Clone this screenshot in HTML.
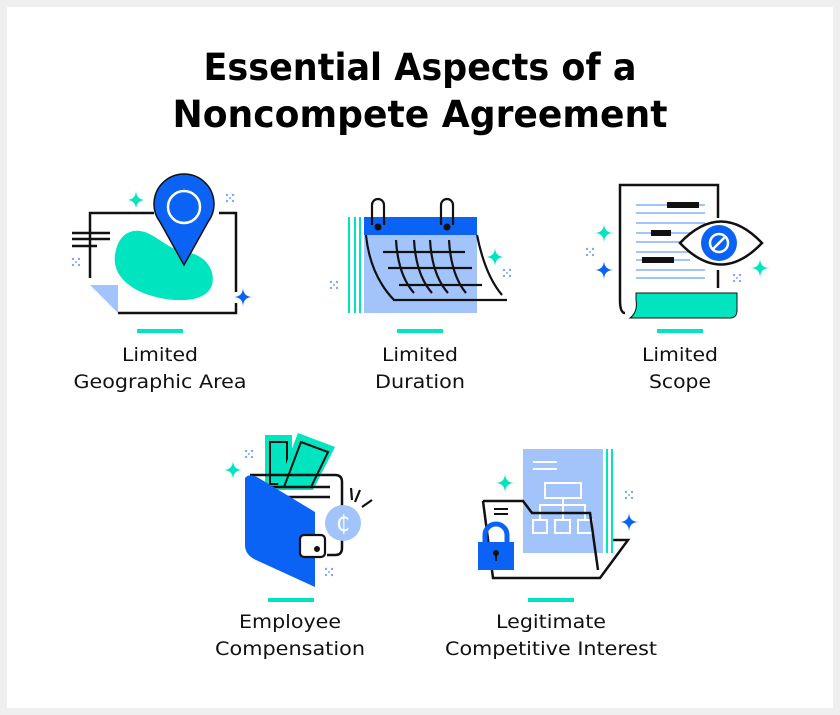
<!DOCTYPE html>
<html><head><meta charset="utf-8"><style>
html,body{margin:0;padding:0;background:#efefef;}
svg{display:block}
text{font-family:"DejaVu Sans","Liberation Sans",sans-serif}
</style></head><body>
<svg width="840" height="715" viewBox="0 0 840 715" xmlns="http://www.w3.org/2000/svg">
<rect x="0" y="0" width="840" height="715" fill="#efefef"/>
<rect x="7" y="7" width="826" height="701" fill="#fff"/>
<defs>
<path id="sp" d="M0,-10 Q0,0 10,0 Q0,0 0,10 Q0,0 -10,0 Q0,0 0,-10Z"/>
<g id="dots" fill="#7fa8f5"><circle cx="-3" cy="-3" r="1.2"/><circle cx="3" cy="-3" r="1.2"/><circle cx="-3" cy="3" r="1.2"/><circle cx="3" cy="3" r="1.2"/><circle cx="0" cy="0" r="1"/></g>
</defs>
<text x="420" y="80" text-anchor="middle" font-size="37" font-weight="bold" textLength="433" lengthAdjust="spacingAndGlyphs">Essential Aspects of a</text>
<text x="420" y="127" text-anchor="middle" font-size="37" font-weight="bold" textLength="495" lengthAdjust="spacingAndGlyphs">Noncompete Agreement</text>

<g fill="none" stroke="#111" stroke-width="2.5">
<path d="M90,278 V213 H154 M219,213 H236 V292 M236,303 V313 H118"/>
<path d="M72,233 H110 M72,239 H110 M72,246 H97"/>
</g>
<path d="M90,285 H118 V313 Z" fill="#a3c4fb"/>
<path d="M130,232 C150,225 165,250 185,252 C205,254 216,270 212,285 C206,302 180,302 160,298 C130,292 112,275 115,255 C117,242 122,235 130,232Z" fill="#00e5bf"/>
<path d="M184,265 L160,222 A30,30 0 1 1 208,222 Z" fill="#0a63f5" stroke="#111" stroke-width="1.5"/>
<circle cx="184" cy="207" r="16" fill="none" stroke="#fff" stroke-width="2.5"/>
<use href="#sp" x="136" y="200" fill="#00e5bf"/>
<use href="#sp" x="243" y="297" fill="#0a63f5"/>
<use href="#dots" x="230" y="198"/><use href="#dots" x="76" y="262"/>

<g stroke="#00e5bf" stroke-width="2"><path d="M349,217V313M355,217V313M360,217V313"/></g>
<rect x="364" y="235" width="113" height="78" fill="#a3c4fb"/>
<rect x="364" y="217" width="113" height="18" fill="#0a63f5"/>
<g fill="none" stroke="#111" stroke-width="2.2">
<path d="M372,225 V205 A6,6 0 0 1 384,205 V225 M441,225 V205 A6,6 0 0 1 453,205 V225"/>
<path d="M366,235 Q370,275 394,300 H507 M477,235 Q485,275 502,295"/>
<path d="M383,252 H465 M388,268 H472 M399,285 H482"/>
<path d="M396,240 Q398,275 414,293 M414,240 Q416,275 432,293 M430,240 Q432,275 448,293 M449,240 Q451,275 466,293"/>
</g>
<circle cx="378" cy="227" r="3.5" fill="#111"/><circle cx="447" cy="227" r="3.5" fill="#111"/>
<use href="#sp" x="495" y="257" fill="#00e5bf"/>
<use href="#dots" x="507" y="273"/><use href="#dots" x="334" y="285"/>

<g fill="none" stroke="#111" stroke-width="2.5"><path d="M625,313 Q620,313 620,300 V185 H718 V218 M718,270 V288"/></g>
<g stroke="#a3c4fb" stroke-width="2"><path d="M636,205H705M636,213H705M636,223H705M636,233H700M636,242H690M636,252H695M636,260H690M636,270H705M636,278H705"/></g>
<g fill="#111"><rect x="667" y="202" width="32" height="6"/><rect x="651" y="230" width="20" height="6"/><rect x="642" y="257" width="32" height="6"/></g>
<path d="M680,243 Q721,200 762,243 Q721,286 680,243Z" fill="#fff" stroke="#111" stroke-width="2.5"/>
<circle cx="719" cy="243" r="18" fill="#0a63f5"/>
<circle cx="719" cy="243" r="9" fill="none" stroke="#fff" stroke-width="2.5"/>
<path d="M713,249 L725,237" stroke="#fff" stroke-width="2.5"/>
<path d="M636,293 H737 V310 Q737,318 730,318 H630 Q638,312 636,300Z" fill="#00e5bf" stroke="#111" stroke-width="1"/>
<use href="#sp" x="604" y="233" fill="#00e5bf"/>
<use href="#sp" x="604" y="270" fill="#0a63f5"/>
<use href="#sp" x="760" y="268" fill="#00e5bf"/>
<use href="#dots" x="590" y="252"/><use href="#dots" x="737" y="278"/>

<rect x="265" y="435" width="27" height="52" fill="#00e5bf"/>
<rect x="270" y="442" width="17" height="42" fill="none" stroke="#111" stroke-width="2"/>
<path d="M298,433 L335,447 L313,490 L276,490Z" fill="#00e5bf"/>
<path d="M301,442 L328,452 L311,487 L284,487Z" fill="none" stroke="#111" stroke-width="2"/>
<g fill="none" stroke="#111" stroke-width="2.5"><path d="M250,475 H335 Q342,475 342,482 V548 Q342,555 335,555 H327"/><path d="M263,487 H330 M263,497 H330"/></g>
<path d="M245,478 Q250,472 262,480 L315,512 V587 L256,560 Q245,555 245,545Z" fill="#0a63f5"/>
<rect x="300" y="535" width="25" height="22" rx="4" fill="#fff" stroke="#111" stroke-width="2.2"/>
<circle cx="317" cy="549" r="3" fill="#111"/>
<circle cx="343" cy="523" r="18" fill="#a3c4fb"/>
<text x="343" y="531" text-anchor="middle" font-size="22" fill="#fff">₵</text>
<g stroke="#111" stroke-width="2.2"><path d="M351,488 L352,500 M360,490 L355,502 M372,500 L362,507"/></g>
<use href="#sp" x="233" y="470" fill="#00e5bf"/>
<use href="#dots" x="249" y="454"/><use href="#dots" x="329" y="572"/>

<rect x="523" y="449" width="80" height="104" fill="#a3c4fb"/>
<g stroke="#00e5bf" stroke-width="2"><path d="M607,449V553M612,449V553"/></g>
<g fill="none" stroke="#fff" stroke-width="2"><path d="M533,462H557M533,469H557"/><rect x="545" y="483" width="36" height="15"/><path d="M563,498V505M540,520V505H585V520M563,505V520"/><rect x="533" y="520" width="14" height="13"/><rect x="555" y="520" width="15" height="13"/><rect x="578" y="520" width="14" height="13"/></g>
<path d="M483,501 H523 L532,513 H590 L598,570" fill="none" stroke="#111" stroke-width="2.5"/>
<path d="M483,501 L493,578 H600 L628,540 H613" fill="none" stroke="#111" stroke-width="2.5"/>
<path d="M494,509H508M494,514H508" stroke="#111" stroke-width="2"/>
<path d="M485,542 V535 A11,11 0 0 1 507,535 V542" fill="none" stroke="#0a63f5" stroke-width="5"/>
<rect x="478" y="542" width="36" height="28" fill="#0a63f5"/>
<circle cx="496" cy="553" r="3" fill="#111"/><rect x="495" y="554" width="2" height="7" fill="#111"/>
<use href="#sp" x="505" y="483" fill="#00e5bf"/>
<use href="#sp" x="629" y="522" fill="#0a63f5"/>
<use href="#dots" x="629" y="495"/>

<g fill="#00e5bf"><rect x="137" y="329" width="46" height="4"/><rect x="397" y="329" width="46" height="4"/><rect x="657" y="329" width="46" height="4"/><rect x="268" y="598" width="46" height="4"/><rect x="528" y="598" width="46" height="4"/></g>
<g font-size="19" text-anchor="middle" fill="#111">
<text x="160" y="361" textLength="76" lengthAdjust="spacingAndGlyphs">Limited</text><text x="160" y="388" textLength="173" lengthAdjust="spacingAndGlyphs">Geographic Area</text>
<text x="420" y="361" textLength="76" lengthAdjust="spacingAndGlyphs">Limited</text><text x="420" y="388" textLength="90" lengthAdjust="spacingAndGlyphs">Duration</text>
<text x="680" y="361" textLength="76" lengthAdjust="spacingAndGlyphs">Limited</text><text x="680" y="388" textLength="62" lengthAdjust="spacingAndGlyphs">Scope</text>
<text x="290" y="628" textLength="102" lengthAdjust="spacingAndGlyphs">Employee</text><text x="290" y="655" textLength="150" lengthAdjust="spacingAndGlyphs">Compensation</text>
<text x="551" y="628" textLength="110" lengthAdjust="spacingAndGlyphs">Legitimate</text><text x="551" y="655" textLength="212" lengthAdjust="spacingAndGlyphs">Competitive Interest</text>
</g>
</svg>
</body></html>
